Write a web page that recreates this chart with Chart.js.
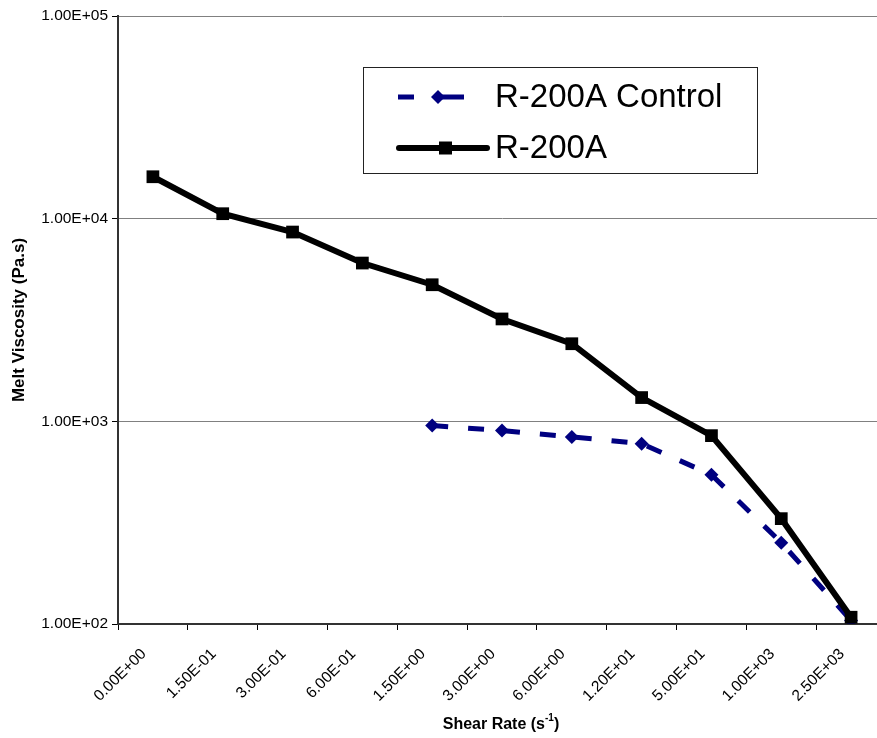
<!DOCTYPE html>
<html>
<head>
<meta charset="utf-8">
<script src="https://cdn.jsdelivr.net/npm/chart.js@4/dist/chart.umd.min.js"></script>
<style>
  html, body { margin: 0; padding: 0; background: #fff; overflow: hidden; }
  #wrap { position: relative; width: 900px; height: 738px; }
</style>
</head>
<body>
<div id="wrap"><canvas id="c"></canvas></div>
<script>
// ---- data ----
const categories = ['0.00E+00','1.50E-01','3.00E-01','6.00E-01','1.50E+00','3.00E+00','6.00E+00','1.20E+01','5.00E+01','1.00E+03','2.50E+03'];
const controlValues = [null, null, null, null, 953, 900, 838, 776, 545, 252, 104];
const r200aValues = [16100, 10580, 8590, 6040, 4720, 3200, 2415, 1310, 850, 331, 108];
const yTickValues = [100, 1000, 10000, 100000];
const seriesNames = ['R-200A Control', 'R-200A'];
const yTitle = 'Melt Viscosity (Pa.s)';
const xTitleMain = 'Shear Rate (s';
const xTitleSup = '-1';
const xTitleEnd = ')';

const FONT = '"Liberation Sans", Arial, sans-serif';
const NAVY = '#000080';

function sci(v) {
  const s = Number(v).toExponential(2).toUpperCase();
  const m = s.match(/^(.*)E([+-])(\d+)$/);
  return m[1] + 'E' + m[2] + m[3].padStart(2, '0');
}

const legendPlugin = {
  id: 'boxLegend',
  afterDraw(chart) {
    const ctx = chart.ctx;
    const x0 = 363, y0 = 67, x1 = 757, y1 = 173;
    ctx.save();
    ctx.fillStyle = '#fff';
    ctx.fillRect(x0, y0, x1 - x0, y1 - y0);
    ctx.strokeStyle = '#222';
    ctx.lineWidth = 1;
    ctx.strokeRect(x0 + 0.5, y0 + 0.5, x1 - x0, y1 - y0);
    const ds = chart.data.datasets;
    // row 1: control
    let y = 97;
    ctx.fillStyle = ds[0].pointBackgroundColor;
    ctx.fillRect(398, y - 2.5, 16, 5);
    ctx.beginPath();
    ctx.moveTo(438, y - 7); ctx.lineTo(445, y); ctx.lineTo(438, y + 7); ctx.lineTo(431, y); ctx.closePath();
    ctx.fill();
    ctx.fillRect(438, y - 2.5, 26, 5);
    // row 2: R-200A
    y = 148;
    ctx.strokeStyle = ds[1].borderColor;
    ctx.lineWidth = ds[1].borderWidth;
    ctx.lineCap = 'round';
    ctx.beginPath(); ctx.moveTo(399, y); ctx.lineTo(487, y); ctx.stroke();
    ctx.fillStyle = ds[1].pointBackgroundColor;
    ctx.fillRect(439, y - 6.5, 13, 13);
    // texts
    ctx.fillStyle = '#000';
    ctx.font = '33px ' + FONT;
    ctx.textBaseline = 'middle';
    ctx.textAlign = 'left';
    ctx.fillText(ds[0].label, 495, 98);
    ctx.fillText(ds[1].label, 495, 149);
    ctx.restore();
  }
};

const xTitlePlugin = {
  id: 'xTitle',
  afterDraw(chart) {
    const ctx = chart.ctx;
    ctx.save();
    ctx.fillStyle = '#000';
    ctx.textBaseline = 'alphabetic';
    ctx.textAlign = 'left';
    const big = 'bold 16px ' + FONT, small = 'bold 10px ' + FONT;
    ctx.font = big; const w1 = ctx.measureText(xTitleMain).width;
    const w3 = ctx.measureText(xTitleEnd).width;
    ctx.font = small; const w2 = ctx.measureText(xTitleSup).width;
    const total = w1 + w2 + w3;
    const cx = 501;
    let x = cx - total / 2;
    const base = 729;
    ctx.font = big; ctx.fillText(xTitleMain, x, base); x += w1;
    ctx.font = small; ctx.fillText(xTitleSup, x, base - 8); x += w2;
    ctx.font = big; ctx.fillText(xTitleEnd, x, base);
    ctx.restore();
  }
};

new Chart(document.getElementById('c'), {
  type: 'line',
  data: {
    labels: categories,
    datasets: [
      {
        label: seriesNames[0],
        data: controlValues,
        borderColor: NAVY,
        backgroundColor: NAVY,
        borderWidth: 5,
        borderDash: [16, 20],
        pointStyle: 'rectRot',
        pointRadius: 7,
        pointBackgroundColor: NAVY,
        pointBorderColor: NAVY,
        pointBorderWidth: 0,
        spanGaps: false,
        order: 2
      },
      {
        label: seriesNames[1],
        data: r200aValues,
        borderColor: '#000',
        backgroundColor: '#000',
        borderWidth: 6,
        pointStyle: 'rect',
        pointRadius: 9,
        pointBackgroundColor: '#000',
        pointBorderColor: '#000',
        pointBorderWidth: 0,
        order: 1
      }
    ]
  },
  options: {
    responsive: true,
    maintainAspectRatio: false,
    animation: false,
    events: [],
    layout: { padding: { left: 0, right: 14, top: 16, bottom: 0 } },
    plugins: { legend: { display: false }, tooltip: { enabled: false } },
    elements: { line: { tension: 0 } },
    scales: {
      x: {
        type: 'category',
        offset: true,
        grid: { offset: true, drawOnChartArea: false, drawTicks: true, tickLength: 6, tickColor: '#000', color: '#000' },
        border: { display: true, color: '#333', width: 2 },
        ticks: {
          autoSkip: false, minRotation: 45, maxRotation: 45, padding: 15, labelOffset: -9,
          color: '#000', font: { family: FONT, size: 15.5 }
        },
        afterFit(scale) { scale.height = 114; }
      },
      y: {
        type: 'logarithmic',
        min: 100, max: 100000,
        afterBuildTicks(scale) { scale.ticks = yTickValues.map(v => ({ value: v })); },
        grid: { color: '#808080', lineWidth: 1, drawTicks: true, tickLength: 6, tickColor: '#000' },
        border: { display: true, color: '#333', width: 2 },
        ticks: {
          color: '#000', font: { family: FONT, size: 15.5 }, padding: 4,
          callback: (v) => sci(v)
        },
        title: {
          display: true, text: yTitle, color: '#000',
          font: { family: FONT, size: 17, weight: 'bold' },
          padding: { top: 9, bottom: 4 }
        },
        afterFit(scale) { scale.width = 118; }
      }
    }
  },
  plugins: [legendPlugin, xTitlePlugin]
});
</script>
</body>
</html>
